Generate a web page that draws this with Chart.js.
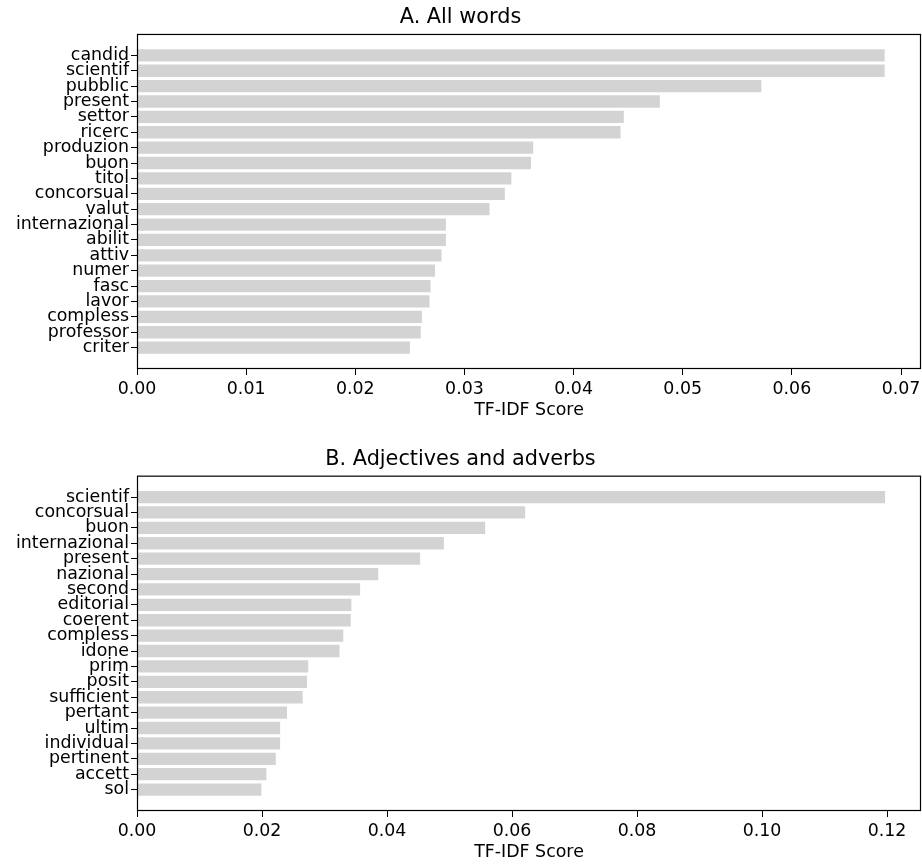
<!DOCTYPE html>
<html>
<head>
<meta charset="utf-8">
<script src="https://cdn.jsdelivr.net/npm/chart.js@4.4.1/dist/chart.umd.min.js"></script>
<style>
  html, body { margin: 0; padding: 0; background: #fff; }
  #wrap { position: relative; width: 922px; height: 865px; }
  .box { position: absolute; left: 0; width: 922px; }
</style>
</head>
<body>
<div id="wrap">
  <div class="box" style="top:0;height:423px"><canvas id="chart-all"></canvas></div>
  <div class="box" style="top:423px;height:442px"><canvas id="chart-adj"></canvas></div>
</div>
<script>
"use strict";

// ---- data ----
const allWords = ["candid", "scientif", "pubblic", "present", "settor", "ricerc", "produzion", "buon",
  "titol", "concorsual", "valut", "internazional", "abilit", "attiv", "numer", "fasc", "lavor",
  "compless", "professor", "criter"];
const allScores = [0.0685, 0.0685, 0.0572, 0.0479, 0.0446, 0.0443, 0.0363, 0.0361, 0.0343, 0.0337,
  0.0323, 0.0283, 0.0283, 0.0279, 0.0273, 0.0269, 0.0268, 0.0261, 0.0260, 0.0250];

const adjWords = ["scientif", "concorsual", "buon", "internazional", "present", "nazional", "second",
  "editorial", "coerent", "compless", "idone", "prim", "posit", "sufficient", "pertant", "ultim",
  "individual", "pertinent", "accett", "sol"];
const adjScores = [0.1197, 0.0621, 0.0557, 0.0491, 0.0453, 0.0386, 0.0357, 0.0343, 0.0342, 0.0330,
  0.0324, 0.0274, 0.0272, 0.0265, 0.0240, 0.0229, 0.0229, 0.0222, 0.0207, 0.0199];

const FONT = "'DejaVu Sans', sans-serif";
const TICK_SIZE = 17.4;
const TITLE_SIZE = 20.8;

// full box around the plot area, like matplotlib spines
const frame = {
  id: "frame",
  afterDraw(chart) {
    const { ctx, chartArea: a } = chart;
    ctx.save();
    ctx.strokeStyle = "#000";
    ctx.lineWidth = 1.2;
    ctx.strokeRect(a.left + 0.5, a.top + 0.5, a.right - a.left - 1, a.bottom - a.top - 1);
    ctx.restore();
  }
};

function makeChart(id, title, words, scores, xMax, titlePad) {
  const el = document.getElementById(id);
  const n = words.length;
  return new Chart(el, {
    type: "bar",
    data: {
      datasets: [{
        data: scores.map((v, i) => ({ x: v, y: i })),
        backgroundColor: "#d3d3d3",
        borderWidth: 0,
        barPercentage: 0.8,
        categoryPercentage: 1.0,
      }],
    },
    options: {
      indexAxis: "y",
      responsive: true,
      maintainAspectRatio: false,
      animation: false,
      layout: { padding: { left: 0, right: 1, top: 0, bottom: 0 } },
      plugins: {
        legend: { display: false },
        tooltip: { enabled: false },
        title: {
          display: true,
          text: title,
          color: "#000",
          font: { family: FONT, size: TITLE_SIZE, weight: "normal", lineHeight: 1.2 },
          padding: titlePad,
        },
      },
      scales: {
        x: {
          type: "linear",
          min: 0,
          max: xMax,
          border: { display: false },
          grid: { drawOnChartArea: false, drawTicks: true, tickLength: 6, tickColor: "#000" },
          ticks: {
            stepSize: xMax > 0.1 ? 0.02 : 0.01,
            includeBounds: false,
            color: "#000",
            padding: 4,
            maxRotation: 0,
            font: { family: FONT, size: TICK_SIZE },
            callback: (v) => Number(v).toFixed(2),
          },
          title: {
            display: true,
            text: "TF-IDF Score",
            color: "#000",
            font: { family: FONT, size: TICK_SIZE, lineHeight: 1.2 },
            padding: { top: 0, bottom: 1.6 },
          },
          afterFit: (s) => { s.height = 54; s.paddingLeft = 0; s.paddingRight = 0; },
        },
        y: {
          type: "linear",
          reverse: true,
          offset: false,
          min: -1.39,
          max: n - 1 + 1.39,
          border: { display: false },
          grid: { drawOnChartArea: false, drawTicks: true, tickLength: 6, tickColor: "#000", offset: false },
          ticks: {
            color: "#000",
            padding: 2,
            autoSkip: false,
            font: { family: FONT, size: TICK_SIZE },
            callback: (v) => words[v] ?? "",
          },
          afterBuildTicks: (s) => { s.ticks = words.map((_, i) => ({ value: i })); },
          afterFit: (s) => { s.width = 137; s.paddingTop = 0; s.paddingBottom = 0; },
        },
      },
    },
    plugins: [frame],
  });
}

makeChart("chart-all", "A. All words", allWords, allScores, 0.07183, { top: 5, bottom: 4 });
makeChart("chart-adj", "B. Adjectives and adverbs", adjWords, adjScores, 0.12544, { top: 24, bottom: 3.7 });
</script>
</body>
</html>
